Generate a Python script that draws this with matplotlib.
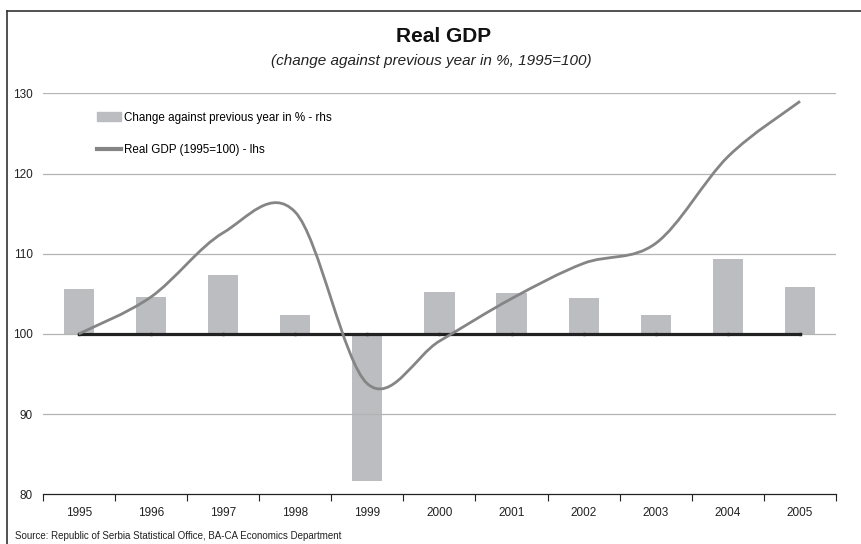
import matplotlib
matplotlib.use('Agg')
import matplotlib.pyplot as plt
from matplotlib.path import Path
from matplotlib.patches import PathPatch, Patch
from matplotlib.lines import Line2D

plt.rcParams['font.family'] = ['Liberation Sans', 'DejaVu Sans']

years = ['1995', '1996', '1997', '1998', '1999', '2000', '2001', '2002', '2003', '2004', '2005']
# change against previous year in % (rhs, 0 aligned with 100 on lhs)
change = [5.65, 4.55, 7.4, 2.35, -18.3, 5.2, 5.1, 4.5, 2.35, 9.3, 5.9]
# real GDP index, 1995=100 (lhs)
gdp = [100.0, 104.6, 112.6, 115.2, 93.8, 99.1, 104.4, 108.8, 111.3, 122.1, 129.0]
baseline = [100] * len(years)


def smooth_path(xs, ys):
    # Excel-style smoothed line: cubic Bezier through every point
    verts = [(xs[0], ys[0])]
    codes = [Path.MOVETO]
    n = len(xs)
    for i in range(n - 1):
        x0, y0 = (xs[i - 1], ys[i - 1]) if i > 0 else (xs[i], ys[i])
        x3, y3 = (xs[i + 2], ys[i + 2]) if i + 2 < n else (xs[i + 1], ys[i + 1])
        c1 = (xs[i] + (xs[i + 1] - x0) / 6, ys[i] + (ys[i + 1] - y0) / 6)
        c2 = (xs[i + 1] - (x3 - xs[i]) / 6, ys[i + 1] - (y3 - ys[i]) / 6)
        verts += [c1, c2, (xs[i + 1], ys[i + 1])]
        codes += [Path.CURVE4] * 3
    return Path(verts, codes)


fig = plt.figure(figsize=(8.62, 5.44), dpi=100)
ax = fig.add_axes([0.0495, 0.0913, 0.9205, 0.7372])
ax2 = ax.twinx()
x = list(range(len(years)))

ax2.bar(x, change, width=0.42, color='#bcbdc0', zorder=2)
ax2.set_ylim(-20, 30)
ax2.axis('off')

ax.set_zorder(ax2.get_zorder() + 1)
ax.patch.set_visible(False)
ax.plot(x, baseline, color='#222222', lw=2.3, marker='s', ms=2, zorder=3)
curve = PathPatch(smooth_path(x, gdp), fill=False, edgecolor='#858585', lw=2.0,
                  transform=ax.transData, zorder=4)
ax.add_patch(curve)

ax.set_ylim(80, 130)
ax.set_xlim(-0.5, len(years) - 0.5)
ax.set_yticks([80, 90, 100, 110, 120, 130])
ax.tick_params(axis='y', length=0, pad=7, labelsize=8.5, colors='#222222')
ax.set_xticks(x)
ax.set_xticklabels(years)
ax.set_xticks([i - 0.5 for i in range(len(years) + 1)], minor=True)
ax.tick_params(axis='x', which='major', length=0, pad=9, labelsize=8.5, colors='#222222')
ax.tick_params(axis='x', which='minor', length=5, width=0.8, direction='out', color='#222222')
for y in [90, 100, 110, 120, 130]:
    ax.axhline(y, color='#b4b4b4', lw=0.9, zorder=0)
for s in ['left', 'right', 'top']:
    ax.spines[s].set_visible(False)
ax.spines['bottom'].set_color('#222222')
ax.spines['bottom'].set_linewidth(0.9)

handles = [Patch(color='#bcbdc0'), Line2D([], [], color='#858585', lw=3)]
labels = ['Change against previous year in % - rhs', 'Real GDP (1995=100) - lhs']
fig.legend(handles, labels, loc='upper left', bbox_to_anchor=(97 / 862, 1 - 112 / 544),
           frameon=False, fontsize=8.4, borderpad=0, borderaxespad=0, handlelength=2.1,
           handleheight=0.8, handletextpad=0.2, labelspacing=1.75)

fig.text(444 / 862, 1 - 42 / 544, 'Real GDP', ha='center', va='baseline', fontsize=15,
         weight='bold', color='#111111')
fig.text(0.5, 1 - 65 / 544, '(change against previous year in %, 1995=100)', ha='center',
         va='baseline', fontsize=11, style='italic', color='#222222')
fig.text(15 / 862, 1 - 536 / 544, 'Source: Republic of Serbia Statistical Office, BA-CA Economics Department',
         ha='left', va='center', fontsize=7, color='#222222')

# frame around the chart
fig.add_artist(Line2D([7 / 862, 7 / 862], [0, 1 - 11 / 544], color='#333333', lw=1.2))
fig.add_artist(Line2D([7 / 862, 1], [1 - 11 / 544, 1 - 11 / 544], color='#333333', lw=1.2))

fig.savefig('out.png', dpi=100)
